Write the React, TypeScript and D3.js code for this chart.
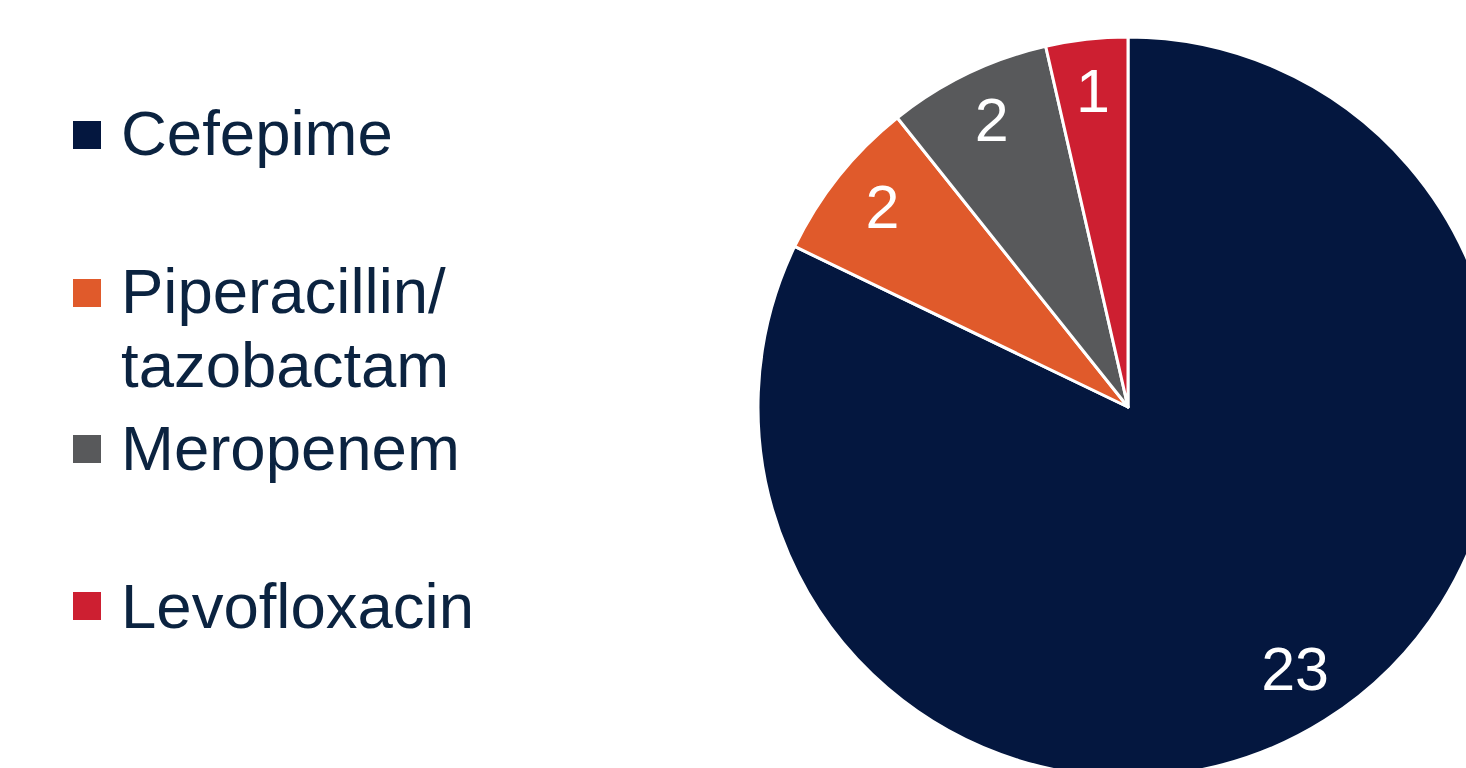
import React from "react";
import * as d3 from "d3";

const categories = ["Cefepime", "Piperacillin/tazobactam", "Meropenem", "Levofloxacin"];
const values = [23, 2, 2, 1];
const legendLines = [["Cefepime"], ["Piperacillin/", "tazobactam"], ["Meropenem"], ["Levofloxacin"]];
const colors = ["#04173f", "#e05a2b", "#58595b", "#cd1f31"];

const W = 1466;
const H = 768;
const cx = 1128;
const cy = 407;
const R = 370;

export default function App() {
  const pie = d3.pie<number>().sort(null).value((d) => d)(values);
  const arc = d3.arc<d3.PieArcDatum<number>>().innerRadius(0).outerRadius(R);
  const labelArc = d3.arc<d3.PieArcDatum<number>>().innerRadius(314).outerRadius(314);
  const squareY = [121, 279, 435, 592];
  const baseY = [155, 313, 470, 628];
  return (
    <svg width={W} height={H} style={{ position: "absolute", left: 0, top: 0, background: "#fff" }}
      fontFamily="'Liberation Sans', Arial, sans-serif">
      <g transform={`translate(${cx},${cy})`}>
        {pie.map((p, i) => (
          <path key={i} d={arc(p) || ""} fill={colors[i]} stroke="#fff" strokeWidth={3} strokeLinejoin="round" />
        ))}
        {pie.map((p, i) => {
          const [x, y] = labelArc.centroid(p);
          return (
            <text key={i} x={x} y={y} dy="0.28em" textAnchor="middle" fill="#fff" fontSize={61}>
              {values[i]}
            </text>
          );
        })}
      </g>
      {categories.map((c, i) => (
        <g key={c}>
          <rect x={73} y={squareY[i]} width={28} height={28} fill={colors[i]} />
          {legendLines[i].map((line, j) => (
            <text key={j} x={121} y={baseY[i] + j * 74} fontSize={63.5} fill="#0b2340">
              {line}
            </text>
          ))}
        </g>
      ))}
    </svg>
  );
}
